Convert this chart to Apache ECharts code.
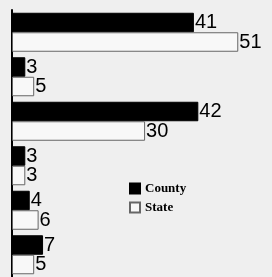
<!DOCTYPE html>
<html>
<head>
<meta charset="utf-8">
<script src="https://cdn.jsdelivr.net/npm/echarts@6/dist/echarts.min.js"></script>
<style>
  html, body { margin: 0; padding: 0; background: #efefef; }
  #chart { width: 272px; height: 277px; }
</style>
</head>
<body>
<div id="chart"></div>
<script>
  // categories have no visible labels in the picture
  var categories = ['A', 'B', 'C', 'D', 'E', 'F'];
  var county = [41, 3, 42, 3, 4, 7];
  var state = [51, 5, 30, 3, 6, 5];

  var chart = echarts.init(document.getElementById('chart'));
  var labelStyle = {
    show: true,
    position: 'right',
    distance: 1,
    color: '#000',
    fontFamily: '"Liberation Sans Narrow", "Liberation Sans", Arial, sans-serif',
    fontSize: 20
  };
  var option = {
    backgroundColor: '#efefef',
    animation: false,
    grid: { left: 12, right: 16, top: 10, bottom: -3 },
    legend: {
      orient: 'vertical',
      left: 129,
      top: 182,
      padding: 0,
      itemWidth: 10,
      itemHeight: 10,
      itemGap: 6,
      icon: 'rect',
      textStyle: {
        fontFamily: 'Liberation Serif, serif',
        fontWeight: 'bold',
        fontSize: 13,
        color: '#000'
      },
      data: ['County', 'State']
    },
    xAxis: {
      type: 'value',
      min: 0,
      max: 55,
      show: false
    },
    yAxis: {
      type: 'category',
      data: categories,
      inverse: true,
      axisLine: { show: true, lineStyle: { color: '#000', width: 2 } },
      axisTick: { show: false },
      axisLabel: { show: false },
      splitLine: { show: false }
    },
    series: [
      {
        name: 'County',
        type: 'bar',
        data: county,
        barWidth: 19.5,
        barGap: '0%',
        itemStyle: { color: '#000', borderColor: '#000', borderWidth: 1 },
        label: labelStyle
      },
      {
        name: 'State',
        type: 'bar',
        data: state,
        barWidth: 19.5,
        itemStyle: { color: '#f8f8f8', borderColor: '#666', borderWidth: 1 },
        label: labelStyle
      }
    ]
  };
  chart.setOption(option);
</script>
</body>
</html>
